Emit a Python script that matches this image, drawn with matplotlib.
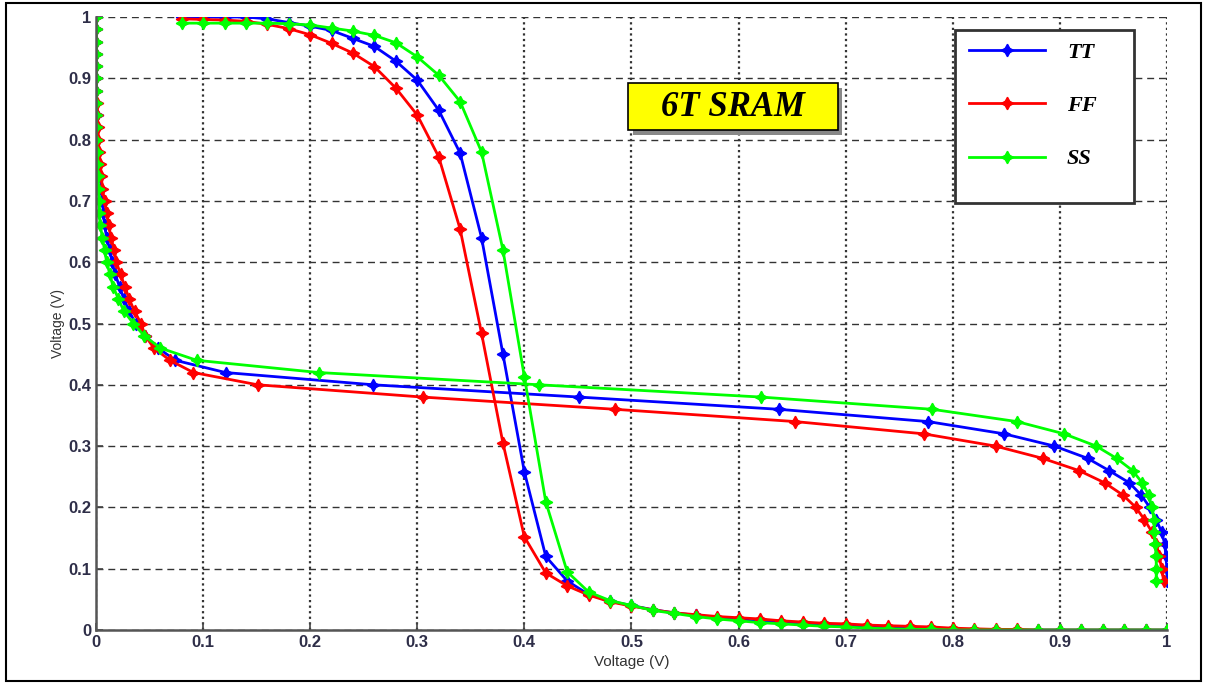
import numpy as np
import matplotlib
matplotlib.use('Agg')
import matplotlib.pyplot as plt
from matplotlib.patches import Rectangle

# sweep grid of the input node
vin = [0.08, 0.10, 0.12, 0.14, 0.16, 0.18, 0.20, 0.22, 0.24, 0.26, 0.28, 0.30,
       0.32, 0.34, 0.36, 0.38, 0.40, 0.42, 0.44, 0.46, 0.48, 0.50, 0.52, 0.54,
       0.56, 0.58, 0.60, 0.62, 0.64, 0.66, 0.68, 0.70, 0.72, 0.74, 0.76, 0.78,
       0.80, 0.82, 0.84, 0.86, 0.88, 0.90, 0.92, 0.94, 0.96, 0.98, 1.00]

# first inverter: Vout vs Vin
tt_out = [1.0, 1.0, 1.0, 1.0, 0.997, 0.991, 0.985, 0.978, 0.965, 0.952, 0.928, 0.897,
          0.848, 0.778, 0.64, 0.45, 0.258, 0.12, 0.08, 0.058, 0.047, 0.04, 0.033, 0.028,
          0.024, 0.02, 0.017, 0.014, 0.012, 0.010, 0.008, 0.007, 0.005, 0.004, 0.003, 0.002,
          0.001, 0, 0, 0, 0, 0, 0, 0, 0, 0, 0]
ff_out = [0.997, 0.996, 0.995, 0.993, 0.988, 0.981, 0.971, 0.957, 0.941, 0.919, 0.884, 0.84,
          0.772, 0.654, 0.484, 0.305, 0.152, 0.093, 0.072, 0.057, 0.046, 0.039, 0.033, 0.028,
          0.025, 0.022, 0.02, 0.018, 0.015, 0.013, 0.011, 0.01, 0.008, 0.007, 0.006, 0.005,
          0.003, 0.002, 0.001, 0.001, 0, 0, 0, 0, 0, 0, 0]
ss_out = [0.99, 0.99, 0.99, 0.99, 0.99, 0.989, 0.987, 0.982, 0.977, 0.97, 0.958, 0.935,
          0.905, 0.862, 0.78, 0.62, 0.413, 0.209, 0.095, 0.062, 0.048, 0.04, 0.032, 0.027,
          0.022, 0.018, 0.015, 0.012, 0.01, 0.008, 0.006, 0.005, 0.003, 0.002, 0.001, 0.001,
          0, 0, 0, 0, 0, 0, 0, 0, 0, 0, 0]

# second inverter (mirrored axes): x value for each y step
vy = [1.00, 0.98, 0.96, 0.94, 0.92, 0.90, 0.88, 0.86, 0.84, 0.82, 0.80, 0.78,
      0.76, 0.74, 0.72, 0.70, 0.68, 0.66, 0.64, 0.62, 0.60, 0.58, 0.56, 0.54,
      0.52, 0.50, 0.48, 0.46, 0.44, 0.42, 0.40, 0.38, 0.36, 0.34, 0.32, 0.30,
      0.28, 0.26, 0.24, 0.22, 0.20, 0.18, 0.16, 0.14, 0.12, 0.10, 0.08]
tt_mir = [0, 0, 0, 0, 0, 0, 0, 0, 0.001, 0.001, 0.001, 0.002,
          0.003, 0.004, 0.005, 0.006, 0.007, 0.008, 0.010, 0.013, 0.015, 0.018, 0.022, 0.026,
          0.031, 0.037, 0.046, 0.058, 0.074, 0.121, 0.259, 0.451, 0.638, 0.777, 0.848, 0.895,
          0.926, 0.946, 0.965, 0.976, 0.984, 0.99, 0.995, 0.998, 0.999, 1.0, 1.0]
ff_mir = [0, 0, 0, 0, 0, 0, 0, 0.001, 0.001, 0.002, 0.002, 0.003,
          0.004, 0.005, 0.006, 0.008, 0.010, 0.012, 0.014, 0.017, 0.019, 0.023, 0.027, 0.031,
          0.036, 0.042, 0.046, 0.054, 0.069, 0.091, 0.151, 0.305, 0.485, 0.653, 0.773, 0.84,
          0.884, 0.918, 0.942, 0.959, 0.971, 0.979, 0.986, 0.99, 0.993, 0.995, 0.997]
ss_mir = [0, 0, 0, 0, 0, 0, 0, 0, 0, 0, 0, 0.001,
          0.001, 0.002, 0.002, 0.003, 0.003, 0.004, 0.006, 0.008, 0.010, 0.013, 0.016, 0.021,
          0.026, 0.035, 0.045, 0.060, 0.094, 0.208, 0.414, 0.621, 0.781, 0.86, 0.904, 0.934,
          0.953, 0.968, 0.977, 0.983, 0.986, 0.988, 0.988, 0.989, 0.99, 0.99, 0.99]

corners = ['TT', 'FF', 'SS']
colors = ['#0000ff', '#ff0000', '#00ff00']
outs = [tt_out, ff_out, ss_out]
mirs = [tt_mir, ff_mir, ss_mir]

star = (4, 1, 0)
tick_col = '#2e2e48'

fig = plt.figure(figsize=(12.06, 6.83), dpi=100)
ax = fig.add_axes([0.0796, 0.0776, 0.888, 0.8975])

for name, c, yo, xm in zip(corners, colors, outs, mirs):
    ax.plot(vin, yo, color=c, linewidth=2, marker=star, markersize=9, label=name)
    ax.plot(xm, vy, color=c, linewidth=2, marker=star, markersize=9)

ax.set_xlim(0, 1)
ax.set_ylim(0, 1)
ax.set_xticks(np.linspace(0, 1, 11))
ax.set_yticks(np.linspace(0, 1, 11))
ax.set_xticklabels(['0', '0.1', '0.2', '0.3', '0.4', '0.5', '0.6', '0.7', '0.8', '0.9', '1'])
ax.set_yticklabels(['0', '0.1', '0.2', '0.3', '0.4', '0.5', '0.6', '0.7', '0.8', '0.9', '1'])
ax.tick_params(direction='in', length=5, width=1.2, colors='#444444',
               labelcolor=tick_col, labelsize=12)
for lab in ax.get_xticklabels() + ax.get_yticklabels():
    lab.set_fontfamily('Liberation Sans')
    lab.set_fontweight('bold')
ax.spines['top'].set_visible(False)
ax.spines['right'].set_visible(False)
ax.spines['left'].set_color('#555555')
ax.spines['bottom'].set_color('#555555')
ax.spines['left'].set_linewidth(1.8)
ax.spines['bottom'].set_linewidth(1.8)
ax.set_axisbelow(True)
ax.yaxis.grid(True, linestyle=(0, (5, 3.5)), color='#333333', linewidth=1)
ax.xaxis.grid(True, linestyle=(0, (1, 1.5)), color='#333333', linewidth=1.6)

ax.set_xlabel('Voltage (V)', fontsize=11, color='#333333', labelpad=4,
              family='Liberation Sans')
ax.set_ylabel('Voltage (V)', fontsize=10, color='#333333', labelpad=2,
              family='Liberation Sans')

# title box
ax.add_patch(Rectangle((0.501, 0.808), 0.196, 0.077, transform=ax.transAxes,
                       facecolor='#888888', edgecolor='none', zorder=4))
ax.add_patch(Rectangle((0.497, 0.816), 0.196, 0.077, transform=ax.transAxes,
                       facecolor='#ffff00', edgecolor='black', linewidth=1.2, zorder=5))
ax.text(0.595, 0.853, '6T SRAM', transform=ax.transAxes, ha='center', va='center',
        fontsize=25, fontweight='bold', fontstyle='italic', family='Liberation Serif',
        zorder=6)

# legend frame drawn by hand (the original box is taller than its entries)
ax.add_patch(Rectangle((0.8025, 0.6966), 0.1665, 0.2822, transform=ax.transAxes,
                       facecolor='white', edgecolor='#333333', linewidth=2, zorder=7))
leg = ax.legend(loc='upper left', bbox_to_anchor=(0.803, 0.981), frameon=False,
                prop={'family': 'Liberation Serif', 'weight': 'bold', 'style': 'italic',
                      'size': 16},
                handlelength=3.4, handletextpad=1.0, labelspacing=1.48,
                borderpad=0.6, borderaxespad=0, markerscale=1.0)
leg.set_zorder(8)

fig.patches.append(Rectangle((0.005, 0.003), 0.991, 0.993, transform=fig.transFigure,
                             fill=False, edgecolor='black', linewidth=1.5))

fig.savefig('out.png', dpi=100)
